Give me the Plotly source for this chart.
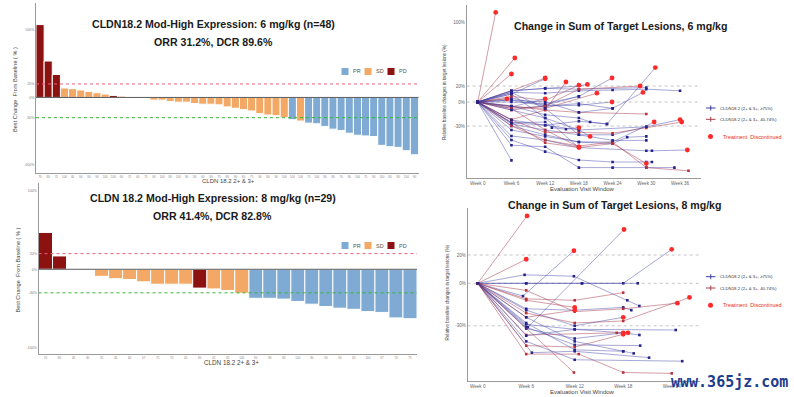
import plotly.graph_objects as go

W, H = 794, 397
def px(x): return x / W
def py(y): return 1 - y / H

# ---------------- DATA ----------------
# Waterfall, 6 mg/kg
wf6_values = [108, 54, 34, 14, 13, 11, 9, 7, 5, 3, 2, 0.4, -1, -1.5, -4, -4, -6, -7, -7, -9,
              -10, -10, -11, -14, -16, -18, -20, -24, -26, -27, -30, -33, -35, -38, -39, -43,
              -47, -49, -53, -56, -57, -58, -71, -73, -74, -79, -85]
wf6_resp = ["PD", "PD", "PD", "SD", "SD", "SD", "SD", "SD", "SD", "PD", "SD", "SD", "SD", "SD",
            "SD", "SD", "SD", "SD", "SD", "SD", "SD", "SD", "SD", "SD", "SD", "SD", "SD", "SD",
            "SD", "SD", "SD", "PR", "SD", "PR", "PR", "PR", "PR", "PR", "PR", "PR", "PR", "PR",
            "PR", "PR", "PR", "PR", "PR"]
wf6_labels = ["70", "80", "75", "100", "40", "90", "80", "90", "100", "100", "60", "75", "40",
              "75", "90", "100", "80", "100", "90", "80", "60", "90", "75", "80", "90", "60",
              "75", "90", "80", "90", "100", "100", "100", "75", "100", "80", "80", "70", "80",
              "100", "75", "90", "100", "80", "80", "100", "90"]

# Waterfall, 8 mg/kg
wf8_values = [47, 17, 0, 0, -9, -12, -13, -16, -19, -19, -19, -24, -25, -27, -30.5, -37, -37,
              -38, -41, -44.5, -47.5, -49.6, -51, -54, -55, -62, -63]
wf8_resp = ["PD", "PD", "SD", "SD", "SD", "SD", "SD", "SD", "SD", "SD", "SD", "PD", "SD", "SD",
            "SD", "PR", "PR", "PR", "PR", "PR", "PR", "PR", "PR", "PR", "PR", "PR", "PR"]
wf8_labels = ["70", "80", "40", "30", "55", "40", "60", "67", "75", "70", "45", "80", "41", "45",
              "100", "90", "80", "60", "100", "80", "90", "90", "65", "100", "67", "70", "75"]

resp_order = ["PR", "SD", "PD"]
resp_colors = {"PR": "#7eaad3", "SD": "#f3a965", "PD": "#8c1212"}

# Spider, 6 mg/kg : weeks, % change, group (H: >=75%, M: 40-74%), discontinued flag
sp6_weeks = [
    [0, 3.2], [0, 6.6], [0, 6], [0, 6, 12], [0, 6, 12], [0, 6, 12, 15.7],
    [0, 6, 12, 18, 23.9], [0, 6, 12, 18, 23, 31.6], [0, 6, 12, 18, 24, 30, 36],
    [0, 6, 12, 18, 30], [0, 6, 12, 18], [0, 6, 12, 18, 30], [0, 6, 12, 18, 24, 29.4],
    [0, 6, 12, 21.2], [0, 6, 12, 18, 23.9], [0, 6, 12, 18, 28.9], [0, 6, 12, 18, 24, 30, 36],
    [0, 6, 12, 18, 24, 30, 36.3], [0, 6, 12, 18, 24, 31.4], [0, 6, 12, 18, 24, 26.6, 30],
    [0, 6, 12, 18, 30, 31, 37.3], [0, 6, 12, 18, 24, 30, 31], [0, 6, 12, 18, 24, 30, 35],
    [0, 6, 12, 18, 24, 30], [0, 6, 12, 18, 24, 30, 37.5], [0, 6], [0, 6, 12, 18, 20],
    [0, 6, 12, 13.2, 15.7, 18], [0, 6, 12, 18, 20, 23], [0, 6, 12, 18, 24], [0, 5.2],
    [0, 6, 12], [0, 6, 12, 18, 24, 30], [0, 6, 12, 18], [0, 6, 12, 18], [0, 6, 12, 18, 19.5],
    [0, 6, 12, 18], [0, 6, 12, 18, 30]]
sp6_vals = [
    [0, 112], [0, 55], [0, 35], [0, 14, 30], [0, 10, 29], [0, -22, -10, 25],
    [0, 5, -4, 7, 30], [0, -26, -29, -24, -27.5, 43], [0, 12, 11, 14, 15, 16, 14],
    [0, 14, 17, 16, 18], [0, 7, 2, 21], [0, -5, -10, -13, -15], [0, -8, -5, -2, -8, 12],
    [0, -6, -8, 11], [0, 2.5, -5, -4, 0], [0, -10, -5, 16, 20], [0, -27.5, -35, -41, -41, -31, -22],
    [0, -22.5, -38, -38, -39, -32.5, -25], [0, -30, -41, -50, -50, -25], [0, -35, -43, -50, -52, -44, -43],
    [0, -42.5, -47.5, -57, -61, -61, -60], [0, -47.5, -62, -72.5, -75, -75, -75], [0, -54, -56, -82, -82, -82, -82],
    [0, -26, -51, -57, -52, -77], [0, -30, -47.5, -55, -50, -82, -86], [0, -73], [0, -22.5, -29, -35, -43],
    [0, -26, -25, -32, -34, -32], [0, -5, -16, -20, -25, -27.5], [0, 2.5, 0, -13, -8], [0, 4],
    [0, -6, 4], [0, 12, -8, -41, -48, -48], [0, 10, -20, -57], [0, -8, -35, -56], [0, 14, 17, 20, 22],
    [0, 0, -2, 7], [0, -10, -20, -35, -31]]
sp6_group = ["M", "M", "M", "M", "H", "M", "H", "H", "H", "H", "M", "M", "H", "M", "H", "M", "H",
             "M", "H", "H", "H", "H", "H", "M", "M", "H", "H", "H", "H", "H", "M", "H", "H", "H",
             "M", "H", "H", "H"]
sp6_disc = [1, 1, 1, 1, 1, 1, 1, 1, 0, 0, 1, 0, 1, 1, 1, 1, 1, 1, 1, 0, 1, 0, 0, 1, 0, 0, 1, 1,
            0, 0, 1, 1, 0, 1, 1, 1, 0, 0]

# Spider, 8 mg/kg
sp8_weeks = [
    [0, 6.1], [0, 6], [0, 5.6, 11.9], [0, 6.2, 18.1], [0, 6, 12.9, 18, 24], [0, 6, 12.9, 19.8],
    [0, 5.8, 11.9, 18.5, 20], [0, 6, 12, 18], [0, 6, 12], [0, 6, 12], [0, 6, 12, 18, 19],
    [0, 6, 12, 18, 24.7], [0, 6, 12, 18, 26.2], [0, 6, 12, 18], [0, 6, 12, 18, 20],
    [0, 6, 12, 18], [0, 6, 17.2, 18.6], [0, 6, 12, 24.5], [0, 6, 12, 18, 19.3],
    [0, 6, 12, 20.1], [0, 6.7, 12, 21.2], [0, 6, 12.5, 18, 24], [0, 11.9], [0, 6, 12, 25.3],
    [0, 6, 12, 18], [0, 6, 12, 18]]
sp8_vals = [
    [0, 47.6], [0, 17], [0, -9, 23], [0, -31, 38], [0, 0, 0, 0, 24], [0, 0, 0, 0],
    [0, 6, 5, -12, -16], [0, -11, -12, -6.6], [0, -24, -19], [0, -12, -17], [0, -18, -19, -17, -19],
    [0, -5, -20, -18, -14], [0, -21, -28, -26.6, -10], [0, -19, -30, -24], [0, -29, -32.5, -35, -36.5],
    [0, -32, -39, -35], [0, -36.5, -35, -35], [0, -37, -32.5, -33], [0, -28, -47, -48, -49.5],
    [0, -31, -43.5, -44], [0, -49, -48, -52.5], [0, -50, -50, -63, -63.6], [0, -63], [0, -41, -54, -55],
    [0, -44, -45, -36], [0, -24, -41, -48]]
sp8_group = ["M", "M", "H", "H", "H", "H", "H", "M", "M", "M", "H", "M", "M", "H", "H", "H", "M",
             "H", "H", "H", "H", "M", "M", "H", "M", "H"]
sp8_disc = [1, 1, 1, 1, 1, 0, 0, 0, 1, 1, 0, 1, 1, 1, 0, 1, 1, 0, 0, 0, 0, 0, 0, 0, 1, 0]

week_ticks = [0, 6, 12, 18, 24, 30, 36]
week_labels = ["Week 0", "Week 6", "Week 12", "Week 18", "Week 24", "Week 30", "Week 36"]

# ---------------- FIGURE ----------------
fig = go.Figure()
FONT = "Liberation Sans, Arial, sans-serif"

def add_waterfall(values, resp, xa, ya):
    for r in resp_order:
        xs = [i + 1 for i, c in enumerate(resp) if c == r]
        ys = [values[i] for i, c in enumerate(resp) if c == r]
        fig.add_trace(go.Bar(x=xs, y=ys, width=1, xaxis=xa, yaxis=ya,
                             marker=dict(color=resp_colors[r], line=dict(color="white", width=1)),
                             showlegend=False, hoverinfo="x+y"))

add_waterfall(wf6_values, wf6_resp, "x", "y")
add_waterfall(wf8_values, wf8_resp, "x2", "y2")

line_col = {"H": "rgba(60,60,165,0.5)", "M": "rgba(165,55,75,0.55)"}
mark_col = {"H": "#24248c", "M": "#b8303c"}

def add_spider(weeks, vals, group, disc, xa, ya):
    dx, dy = [], []
    for w, v, g, d in zip(weeks, vals, group, disc):
        fig.add_trace(go.Scatter(x=w, y=v, mode="lines+markers", xaxis=xa, yaxis=ya,
                                 line=dict(color=line_col[g], width=0.9),
                                 marker=dict(color=mark_col[g], size=2.6, symbol="square"),
                                 showlegend=False))
        if d:
            dx.append(w[-1]); dy.append(v[-1])
    fig.add_trace(go.Scatter(x=dx, y=dy, mode="markers", xaxis=xa, yaxis=ya,
                             marker=dict(color="#ff2b2b", size=4.8), showlegend=False))

add_spider(sp6_weeks, sp6_vals, sp6_group, sp6_disc, "x3", "y3")
add_spider(sp8_weeks, sp8_vals, sp8_group, sp8_disc, "x4", "y4")

axcommon = dict(showgrid=False, zeroline=False, ticks="", showline=True, linecolor="#9a9a9a",
                linewidth=1, fixedrange=True, automargin=False)

fig.update_layout(
    width=W, height=H, margin=dict(l=0, r=0, t=0, b=0, autoexpand=False),
    paper_bgcolor="white", plot_bgcolor="white", barmode="overlay", showlegend=False,
    font=dict(family=FONT, color="#333"),
    xaxis=dict(domain=[px(36), px(418.5)], range=[0.5, len(wf6_values) + 0.5], anchor="y",
               tickvals=list(range(1, len(wf6_values) + 1)), ticktext=wf6_labels,
               tickfont=dict(size=3, color="#888"), tickangle=0, **axcommon),
    yaxis=dict(domain=[py(173), py(3)], range=[-112, 140], anchor="x",
               tickvals=[100, 20, 0, -30, -100], ticktext=["100%", "20%", "0%", "-30%", "-100%"],
               tickfont=dict(size=3.5, color="#777"), **axcommon),
    xaxis2=dict(domain=[px(38.5), px(417)], range=[0.5, len(wf8_values) + 0.5], anchor="y2",
                tickvals=list(range(1, len(wf8_values) + 1)), ticktext=wf8_labels,
                tickfont=dict(size=3, color="#888"), tickangle=0, **axcommon),
    yaxis2=dict(domain=[py(354), py(183)], range=[-108, 110], anchor="x2",
                tickvals=[100, 20, 0, -30, -100], ticktext=["100%", "20%", "0%", "-30%", "-100%"],
                tickfont=dict(size=3.5, color="#777"), **axcommon),
    xaxis3=dict(domain=[px(466.7), px(701)], range=[-1.96, 39.73], anchor="y3",
                tickvals=week_ticks, ticktext=week_labels,
                tickfont=dict(size=4.6, color="#666"), **axcommon),
    yaxis3=dict(domain=[py(178), py(5)], range=[-95, 121.25], anchor="x3",
                tickvals=[100, 20, 0, -30], ticktext=["100%", "20%", "0%", "-30%"],
                tickfont=dict(size=4.5, color="#666"), **axcommon),
    xaxis4=dict(domain=[px(467.7), px(700)], range=[-1.24, 27.5], anchor="y4",
                tickvals=week_ticks[:5], ticktext=week_labels[:5],
                tickfont=dict(size=4.6, color="#666"), **axcommon),
    yaxis4=dict(domain=[py(381), py(208)], range=[-69, 53.2], anchor="x4",
                tickvals=[20, 0, -30], ticktext=["20%", "0%", "-30%"],
                tickfont=dict(size=4.5, color="#666"), **axcommon),
)

shapes = []
# waterfall reference lines
for xa, ya in (("x", "y"), ("x2", "y2")):
    shapes.append(dict(type="line", xref=f"{xa} domain", yref=ya, x0=0, x1=1, y0=0, y1=0,
                       line=dict(color="#5a5a5a", width=1), layer="above"))
    shapes.append(dict(type="line", xref=f"{xa} domain", yref=ya, x0=0, x1=1, y0=20, y1=20,
                       line=dict(color="#e8607a", width=1, dash="dot")))
    shapes.append(dict(type="line", xref=f"{xa} domain", yref=ya, x0=0, x1=1, y0=-30, y1=-30,
                       line=dict(color="#35b535", width=1, dash="dot"), layer="above"))
# spider grid lines
for xa, ya in (("x3", "y3"), ("x4", "y4")):
    for v in (20, 0, -30):
        shapes.append(dict(type="line", xref=f"{xa} domain", yref=ya, x0=0, x1=1, y0=v, y1=v,
                           line=dict(color="#b5b5b5", width=0.8, dash="dot"), layer="below"))

annotations = []
def ann(text, x, y, size, color="#333", family=FONT, xanchor="center", textangle=0):
    annotations.append(dict(text=text, x=px(x), y=py(y), xref="paper", yref="paper",
                            showarrow=False, xanchor=xanchor, yanchor="middle",
                            font=dict(size=size, color=color, family=family),
                            textangle=textangle))

# waterfall legends
for ly in (71.5, 245.5):
    for name, x0 in zip(resp_order, (341.5, 364.5, 387.5)):
        shapes.append(dict(type="rect", xref="paper", yref="paper", x0=px(x0), x1=px(x0 + 7),
                           y0=py(ly + 3.5), y1=py(ly - 3.5), fillcolor=resp_colors[name],
                           line=dict(width=0)))
        ann(name, x0 + 9.5, ly, 5.5, "#555", xanchor="left")

# spider legends
for base, lx in ((108, 706), (276.7, 706)):
    for dy, col in ((0, "#3a3aa0"), (11.3, "#a8404e")):
        yy = base + dy
        shapes.append(dict(type="line", xref="paper", yref="paper", x0=px(lx), x1=px(lx + 9.5),
                           y0=py(yy), y1=py(yy), line=dict(color=col, width=1)))
        shapes.append(dict(type="line", xref="paper", yref="paper", x0=px(lx + 4.75), x1=px(lx + 4.75),
                           y0=py(yy - 2.5), y1=py(yy + 2.5), line=dict(color=col, width=1)))
    ann("CLDN18.2 (2+ & 3+, ≥75%)", 718, base, 4.3, "#333", xanchor="left")
    ann("CLDN18.2 (2+ & 3+, 40-74%)", 718, base + 11.3, 4.3, "#333", xanchor="left")
    cy = base + 28.5
    shapes.append(dict(type="circle", xref="paper", yref="paper", x0=px(lx + 2), x1=px(lx + 7),
                       y0=py(cy + 2.5), y1=py(cy - 2.5), fillcolor="#ff2b2b", line=dict(width=0)))
    ann("Treatment  Discontinued", 720.5, cy, 5.4, "#e53030", xanchor="left")

# titles
ann("<b>CLDN18.2 Mod-High Expression: 6 mg/kg (n=48)</b>", 213, 24, 10.6, "#1a1a1a")
ann("<b>ORR 31.2%, DCR 89.6%</b>", 213, 42, 10.6, "#1a1a1a")
ann("<b>CLDN 18.2 Mod-High Expression: 8 mg/kg (n=29)</b>", 212.5, 198, 10.6, "#1a1a1a")
ann("<b>ORR 41.4%, DCR 82.8%</b>", 212.5, 216, 10.6, "#1a1a1a")
ann("<b>Change in Sum of Target Lesions, 6 mg/kg</b>", 620, 26.5, 10.6, "#1a1a1a")
ann("<b>Change in Sum of Target Lesions, 8 mg/kg</b>", 614.5, 205, 10.6, "#1a1a1a")

# axis titles
ann("Best Change  From Baseline ( % )", 15, 90, 5.6, "#444", textangle=-90)
ann("Best Change  From Baseline ( % )", 17.5, 270, 5.6, "#444", textangle=-90)
ann("CLDN 18.2 2+ & 3+", 228, 181, 6, "#444")
ann("CLDN 18.2 2+ & 3+", 231, 362, 6.3, "#444")
ann("Relative baseline changes in target lesions (%)", 444, 92, 4.6, "#444", textangle=-90)
ann("Relative baseline changes in target lesions (%)", 446.5, 293, 4.6, "#444", textangle=-90)
ann("Evaluation Visit Window", 582.7, 188.6, 6, "#444")
ann("Evaluation Visit Window", 582.7, 391.6, 6, "#444")

# watermark
ann("<b>www.365jz.com</b>", 729, 382, 15, "#1c3c8e", "DejaVu Sans Mono, monospace")

fig.update_layout(shapes=shapes, annotations=annotations)
fig.write_html("out.html", config={"displayModeBar": False},
               post_script="document.body.style.margin='0';document.body.style.padding='0';"
                           "document.documentElement.style.overflow='hidden';")
